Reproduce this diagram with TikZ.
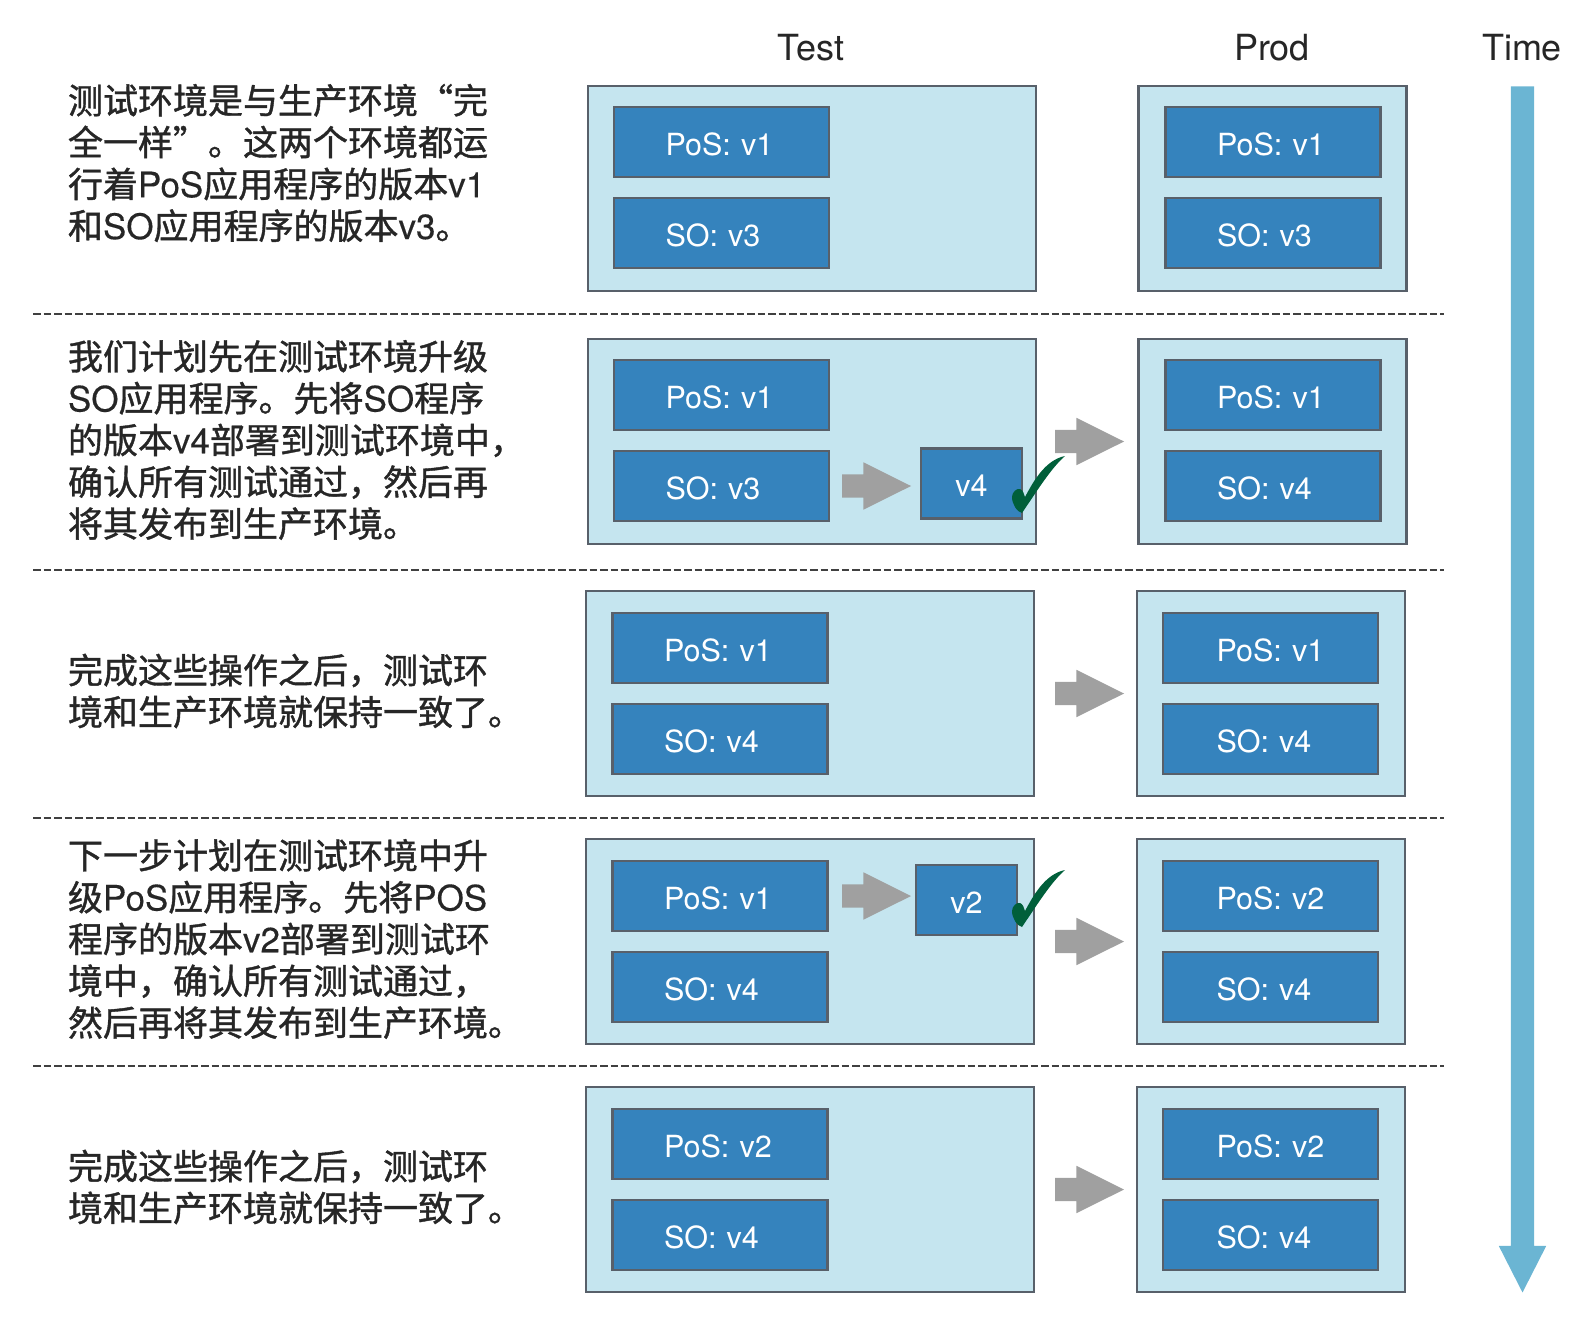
\documentclass[tikz,border=0pt]{standalone}
\usepackage{fontspec}
\setmainfont{TeX Gyre Heros}
\newfontfamily\cjk[FakeBold=1.1]{Noto Sans CJK SC}
\newfontfamily\latin[FakeBold=0.3]{TeX Gyre Heros}
\usetikzlibrary{positioning, shapes.arrows}
\definecolor{my_lightblue}{RGB}{197, 229, 239}
\definecolor{my_blue}{RGB}{53, 131, 189}
\definecolor{my_border}{RGB}{88, 96, 106}
\definecolor{my_gray}{RGB}{160, 160, 160}
\definecolor{my_time}{RGB}{107, 181, 211}
\definecolor{my_green}{RGB}{0, 95, 58}
\newcommand{\lat}[1]{{\latin #1}}
\tikzset {
  env/.style = {draw=my_border, line width=2.2pt, fill=my_lightblue, rectangle, minimum height=205pt},
  testenv/.style = {env, minimum width=448pt},
  prodenv/.style = {env, minimum width=268pt},
  app/.style = {draw=my_border, line width=2.2pt, fill=my_blue, rectangle, text=white, minimum height=70pt, minimum width=215pt, inner xsep=51.5pt, text width=112pt, align=left, font=\fontsize{30.5}{36}\selectfont, text height=29pt, text depth=3pt},
  prodapp/.style = {app, inner xsep=53.5pt, text width=108pt},
  newapp/.style = {draw=my_border, line width=2.2pt, fill=my_blue, rectangle, text=white, minimum height=70pt, minimum width=101pt, inner sep=0pt, font=\fontsize{30.5}{36}\selectfont, text height=29pt, text depth=3pt},
  blockarrow/.style = {single arrow, fill=my_gray, minimum height=69pt, single arrow head extend=12pt, single arrow tip angle=53, inner xsep=0pt, inner ysep=11.5pt},
  timearrow/.style = {single arrow, fill=my_time, shape border rotate=270, minimum height=1206pt, single arrow head extend=12pt, single arrow tip angle=54, inner ysep=0pt, inner xsep=11.5pt},
  note/.style = {anchor=west, align=left, inner sep=0pt, text=black!85, font=\fontsize{35}{41.8}\selectfont\cjk},
  head/.style = {text=black!85, inner sep=0pt, font=\fontsize{36}{42}\selectfont},
  sep/.style = {line width=2pt, black!75, dash pattern=on 7.5pt off 3pt},
  okmark/.pic = {
    \fill[my_green] (1,1) .. controls (-4,0) and (-9,-8) .. (-9,-15) .. controls (-9,-20) and (-4,-24) .. (-1,-23) .. controls (2,-22) and (3,-18) .. (4,-15) .. controls (12,-30) and (24,-52) .. (44,-56) .. controls (30,-44) and (14,-18) .. (1,1) -- cycle;
  }
}

\begin{document}
\begin{tikzpicture}[x=1pt, y=-1pt, outer sep=0pt]
    \useasboundingbox (0,0) rectangle (1588,1322);

    \node[head] (test) at (811,48) {Test};
    \node[head] (prod) at (1272,48) {Prod};
    \node[head] (time) at (1522,48) {Time};
    \node[timearrow] (timeline) at (1522.5,678) {};

    % first row
    \node[testenv, anchor=north west] (test1) at (588,86) {};
    \node[prodenv, below right=0pt and 102.5pt of test1.north east] (prod1) {};
    \node[app, below right=21pt and 26pt of test1.north west] (pos1) {PoS: v1};
    \node[app, below=21pt of pos1] (so1) {SO: v3};
    \node[app, below right=21pt and 27pt of prod1.north west] (ppos1) {PoS: v1};
    \node[app, below=21pt of ppos1] (pso1) {SO: v3};
    \node[note] (note1) at (68,163) {测试环境是与生产环境“完\\全一样”。这两个环境都运\\行着\lat{PoS}应用程序的版本\lat{v1}\\和\lat{SO}应用程序的版本\lat{v3}。};

    % second row
    \node[testenv, anchor=north west] (test2) at (588,339) {};
    \node[prodenv, below right=0pt and 102.5pt of test2.north east] (prod2) {};
    \node[app, below right=21pt and 26pt of test2.north west] (pos2) {PoS: v1};
    \node[app, below=21pt of pos2] (so2) {SO: v3};
    \node[app, below right=21pt and 27pt of prod2.north west] (ppos2) {PoS: v1};
    \node[app, below=21pt of ppos2] (pso2) {SO: v4};
    \node[blockarrow, right=13pt of so2] (up2) {};
    \node[newapp, right=10pt of up2, yshift=2.5pt] (new2) {v4};
    \node[blockarrow, right=19pt of test2] (rel2) {};
    \pic at (1021,512) {okmark};
    \node[note] (note2) at (68,440) {我们计划先在测试环境升级\\\lat{SO}应用程序。先将\lat{SO}程序\\的版本\lat{v4}部署到测试环境中，\\确认所有测试通过，然后再\\将其发布到生产环境。};

    % third row
    \node[testenv, anchor=north west] (test3) at (586,591) {};
    \node[prodenv, below right=0pt and 103pt of test3.north east] (prod3) {};
    \node[app, below right=22pt and 26.5pt of test3.north west] (pos3) {PoS: v1};
    \node[app, below=21pt of pos3] (so3) {SO: v4};
    \node[prodapp, below right=22pt and 26pt of prod3.north west] (ppos3) {PoS: v1};
    \node[prodapp, below=21pt of ppos3] (pso3) {SO: v4};
    \node[blockarrow, right=21pt of test3] (rel3) {};
    \node[note] (note3) at (68,691) {完成这些操作之后，测试环\\境和生产环境就保持一致了。};

    % fourth row
    \node[testenv, anchor=north west] (test4) at (586,839) {};
    \node[prodenv, below right=0pt and 103pt of test4.north east] (prod4) {};
    \node[app, below right=22pt and 26.5pt of test4.north west] (pos4) {PoS: v1};
    \node[app, below=21pt of pos4] (so4) {SO: v4};
    \node[prodapp, below right=22pt and 26pt of prod4.north west] (ppos4) {PoS: v2};
    \node[prodapp, below=21pt of ppos4] (pso4) {SO: v4};
    \node[blockarrow, right=14.5pt of pos4] (up4) {};
    \node[newapp, right=5pt of up4, yshift=-4pt] (new4) {v2};
    \node[blockarrow, right=21pt of test4] (rel4) {};
    \pic at (1021,926) {okmark};
    \node[note] (note4) at (68,939) {下一步计划在测试环境中升\\级\lat{PoS}应用程序。先将\lat{POS}\\程序的版本\lat{v2}部署到测试环\\境中，确认所有测试通过，\\然后再将其发布到生产环境。};

    % fifth row
    \node[testenv, anchor=north west] (test5) at (586,1087) {};
    \node[prodenv, below right=0pt and 103pt of test5.north east] (prod5) {};
    \node[app, below right=22pt and 26.5pt of test5.north west] (pos5) {PoS: v2};
    \node[app, below=21pt of pos5] (so5) {SO: v4};
    \node[prodapp, below right=22pt and 26pt of prod5.north west] (ppos5) {PoS: v2};
    \node[prodapp, below=21pt of ppos5] (pso5) {SO: v4};
    \node[blockarrow, right=21pt of test5] (rel5) {};
    \node[note] (note5) at (68,1187) {完成这些操作之后，测试环\\境和生产环境就保持一致了。};

    % separators
    \coordinate (sep1l) at (33,314);
    \coordinate (sep1r) at (1444,314);
    \coordinate (sep2l) at (33,569.5);
    \coordinate (sep2r) at (1444,569.5);
    \coordinate (sep3l) at (33,818);
    \coordinate (sep3r) at (1444,818);
    \coordinate (sep4l) at (33,1066);
    \coordinate (sep4r) at (1444,1066);
    \draw[sep] (sep1l) -- (sep1r);
    \draw[sep] (sep2l) -- (sep2r);
    \draw[sep] (sep3l) -- (sep3r);
    \draw[sep] (sep4l) -- (sep4r);

\end{tikzpicture}
\end{document}
